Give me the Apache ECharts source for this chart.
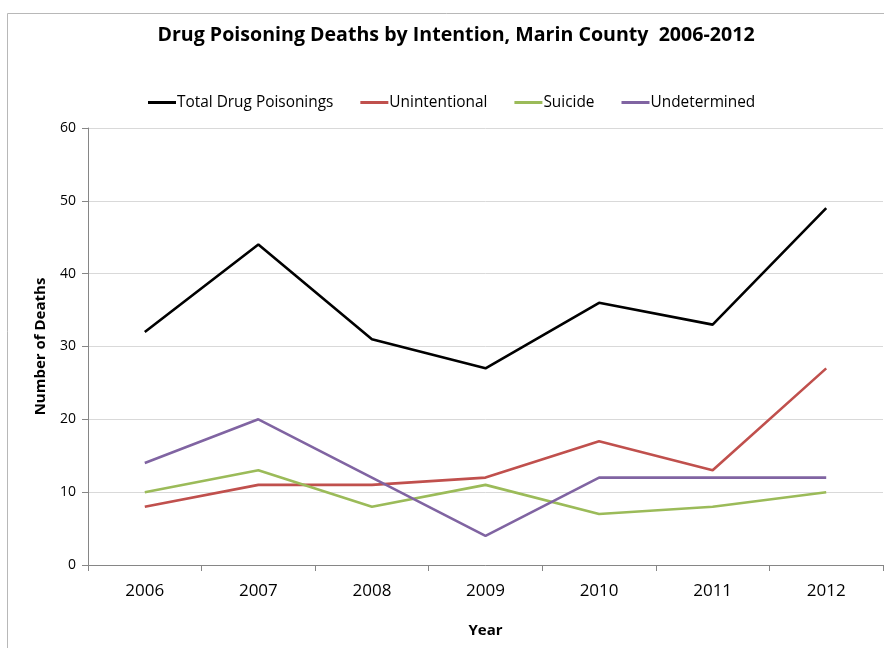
<!DOCTYPE html>
<html>
<head>
<meta charset="utf-8">
<script src="https://cdn.jsdelivr.net/npm/echarts@6/dist/echarts.min.js"></script>
<style>
html,body{margin:0;padding:0;background:#fff;}
#chart{width:884px;height:648px;}
</style>
</head>
<body>
<div id="chart"></div>
<script>
// Drug poisoning deaths in Marin County, by year and intention
const years = ['2006', '2007', '2008', '2009', '2010', '2011', '2012'];
const totalDrugPoisonings = [32, 44, 31, 27, 36, 33, 49];
const unintentional = [8, 11, 11, 12, 17, 13, 27];
const suicide = [10, 13, 8, 11, 7, 8, 10];
const undetermined = [14, 20, 12, 4, 12, 12, 12];
const yTicks = [0, 10, 20, 30, 40, 50, 60];

const FONT = '"Open Sans", "Noto Sans", sans-serif';

const chart = echarts.init(document.getElementById('chart'), null, { renderer: 'canvas' });

function lineSeries(name, data, color) {
  return {
    name: name,
    type: 'line',
    data: data,
    symbol: 'none',
    lineStyle: { color: color, width: 2.6 },
    itemStyle: { color: color },
    emphasis: { disabled: true }
  };
}

chart.setOption({
  backgroundColor: '#fff',
  animation: false,
  graphic: [{
    type: 'rect',
    shape: { x: 7.5, y: 13.5, width: 900, height: 700 },
    style: { fill: 'none', stroke: '#b8b8b8', lineWidth: 1 },
    silent: true
  }],
  title: {
    text: 'Drug Poisoning Deaths by Intention, Marin County  2006-2012',
    left: 451,
    textAlign: 'center',
    top: 20,
    textStyle: { fontFamily: FONT, fontSize: 19.6, fontWeight: 'bold', color: '#000' }
  },
  legend: {
    top: 90,
    left: 143,
    itemWidth: 28,
    itemHeight: 3,
    itemGap: 27,
    icon: 'rect',
    textStyle: { fontFamily: FONT, fontSize: 15.4, color: '#000', padding: [0, 0, 0, -4] },
    data: ['Total Drug Poisonings', 'Unintentional', 'Suicide', 'Undetermined']
  },
  grid: { left: 88, right: 1, top: 128, bottom: 83, containLabel: false },
  xAxis: {
    type: 'category',
    data: years,
    boundaryGap: true,
    name: 'Year',
    nameLocation: 'middle',
    nameGap: 58,
    nameTextStyle: { fontFamily: FONT, fontSize: 15, fontWeight: 'bold', color: '#000' },
    axisLine: { lineStyle: { color: '#868686', width: 1 } },
    axisTick: { show: true, length: 6, lineStyle: { color: '#868686' } },
    axisLabel: { fontFamily: FONT, fontSize: 17, color: '#000', margin: 18 },
    splitLine: { show: false }
  },
  yAxis: {
    type: 'value',
    min: yTicks[0],
    max: yTicks[yTicks.length - 1],
    interval: 10,
    name: 'Number of Deaths',
    nameLocation: 'middle',
    nameGap: 40,
    nameTextStyle: { fontFamily: FONT, fontSize: 15, fontWeight: 'bold', color: '#000' },
    axisLine: { show: true, lineStyle: { color: '#868686', width: 1 } },
    axisTick: { show: true, inside: false, length: 6, lineStyle: { color: '#868686' } },
    axisLabel: { fontFamily: FONT, fontSize: 14, color: '#000', margin: 12 },
    splitLine: { show: true, lineStyle: { color: '#d9d9d9', width: 1 } }
  },
  series: [
    lineSeries('Total Drug Poisonings', totalDrugPoisonings, '#000000'),
    lineSeries('Unintentional', unintentional, '#C0504D'),
    lineSeries('Suicide', suicide, '#9BBB59'),
    lineSeries('Undetermined', undetermined, '#8064A2')
  ]
});
</script>
</body>
</html>
